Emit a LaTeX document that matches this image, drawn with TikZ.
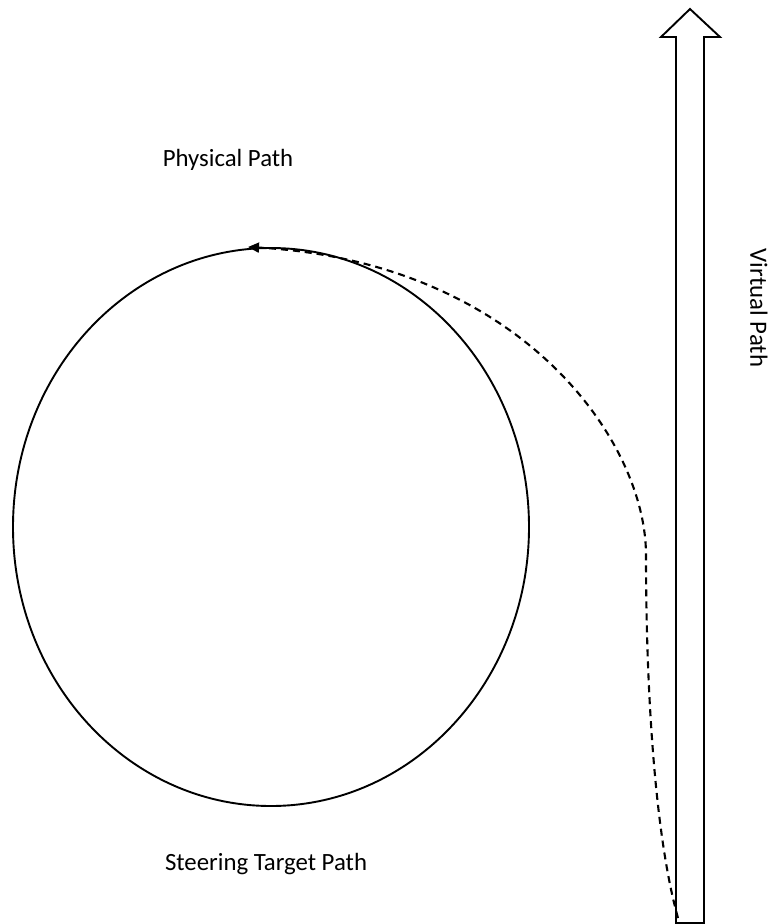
\documentclass[tikz,border=0pt]{standalone}
\usepackage{fontspec}
\setmainfont{Carlito}
\usetikzlibrary{arrows.meta}
\tikzset{
  outline/.style={line width=1.9pt, black},
  dashpath/.style={line width=2.1pt, dash pattern=on 7pt off 5pt, -{Triangle[length=11pt,width=10pt]}},
  lbl/.style={font=\fontsize{24.8}{29}\selectfont, inner sep=0pt}
}
\begin{document}
\begin{tikzpicture}[x=1pt,y=-1pt]
\useasboundingbox (0,0) rectangle (776,924);
% physical path ellipse
\draw[outline] (271,527) ellipse [x radius=258, y radius=279];
% virtual path arrow
\draw[outline, line join=miter] (676,923) -- (676,37) -- (661,37) -- (690,9) -- (720,37) -- (704,37) -- (704,923) -- cycle;
% steering path
\coordinate (s) at (678,918);
\coordinate (m) at (646,555);
\coordinate (e) at (248,247);
\draw[dashpath] (s) .. controls (656,840) and (646,700) .. (m)
  .. controls (646,440) and (520,262) .. (e);
% labels
\node[lbl] (phys) at (228,160) {Physical Path};
\node[lbl] (steer) at (266,864) {Steering Target Path};
\node[lbl, rotate=-90] (virt) at (759,308) {Virtual Path};
\end{tikzpicture}
\end{document}
